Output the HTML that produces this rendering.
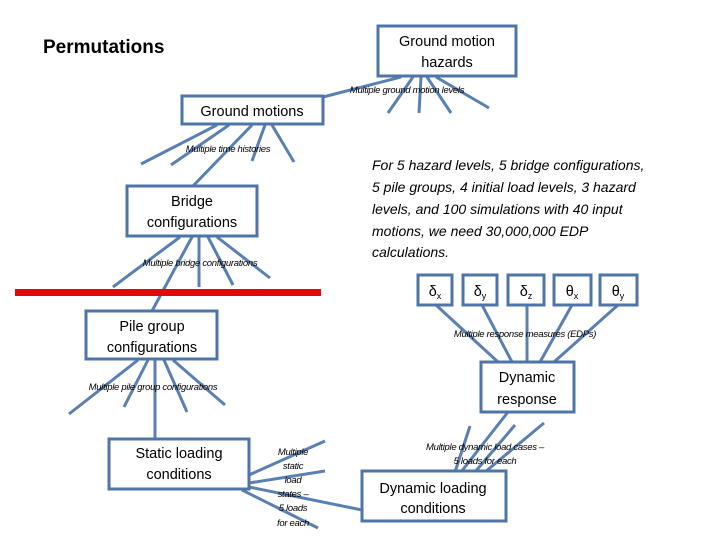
<!DOCTYPE html>
<html><head><meta charset="utf-8"><style>
body{margin:0;background:#fff;width:720px;height:540px;overflow:hidden}
svg{display:block}
text{font-family:"Liberation Sans",sans-serif}
.b{fill:#fff;stroke:#4f75a8;stroke-width:3}
.l line{stroke:#5a80b3;stroke-width:3}
.t{font-size:14.5px;fill:#000;text-anchor:middle}
.s{font-size:9.5px;font-style:italic;fill:#000;text-anchor:middle;letter-spacing:-0.3px}
</style></head><body>
<svg width="720" height="540" viewBox="0 0 720 540">
<g class="l">
<line x1="323" y1="97" x2="401" y2="77"/>
<line x1="413" y1="77" x2="388" y2="113"/>
<line x1="421" y1="77" x2="419" y2="113"/>
<line x1="427" y1="77" x2="451" y2="113"/>
<line x1="436" y1="77" x2="489" y2="108"/>
<line x1="217" y1="125" x2="141" y2="164"/>
<line x1="229" y1="125" x2="171" y2="165"/>
<line x1="252" y1="125" x2="193" y2="186"/>
<line x1="265" y1="125" x2="252" y2="161"/>
<line x1="272" y1="125" x2="294" y2="162"/>
<line x1="180" y1="237" x2="113" y2="287"/>
<line x1="192" y1="237" x2="152" y2="311"/>
<line x1="199" y1="237" x2="199" y2="287"/>
<line x1="208" y1="237" x2="233" y2="285"/>
<line x1="217" y1="237" x2="270" y2="278"/>
<line x1="138" y1="360" x2="69" y2="414"/>
<line x1="148" y1="360" x2="124" y2="407"/>
<line x1="155" y1="360" x2="155" y2="440"/>
<line x1="164" y1="360" x2="187" y2="412"/>
<line x1="173" y1="360" x2="225" y2="405"/>
<line x1="249" y1="475" x2="325" y2="441"/>
<line x1="249" y1="483" x2="325" y2="471"/>
<line x1="249" y1="487" x2="362" y2="510"/>
<line x1="242" y1="490" x2="318" y2="528"/>
<line x1="455" y1="472" x2="470" y2="426"/>
<line x1="461" y1="472" x2="508" y2="412"/>
<line x1="475" y1="472" x2="515" y2="425"/>
<line x1="485" y1="472" x2="544" y2="423"/>
<line x1="498" y1="362" x2="436" y2="305"/>
<line x1="512" y1="362" x2="482" y2="305"/>
<line x1="527" y1="362" x2="527" y2="305"/>
<line x1="540" y1="362" x2="572" y2="305"/>
<line x1="554" y1="362" x2="618" y2="305"/>
</g>
<rect x="15" y="289" width="306" height="7" fill="#e8050a"/>
<rect class="b" x="378" y="26" width="138" height="50"/>
<rect class="b" x="182" y="96" width="141" height="28"/>
<rect class="b" x="127" y="186" width="130" height="50"/>
<rect class="b" x="86" y="311" width="131" height="48"/>
<rect class="b" x="109" y="439" width="140" height="50"/>
<rect class="b" x="362" y="471" width="144" height="50"/>
<rect class="b" x="481" y="362" width="93" height="50"/>
<rect class="b" x="418" y="275" width="34" height="30"/>
<rect class="b" x="463" y="275" width="34" height="30"/>
<rect class="b" x="508" y="275" width="36" height="30"/>
<rect class="b" x="554" y="275" width="37" height="30"/>
<rect class="b" x="600" y="275" width="37" height="30"/>
<text x="43" y="53" style="font-size:19px;font-weight:bold;fill:#000">Permutations</text>
<text class="t" x="447" y="46">Ground motion</text>
<text class="t" x="447" y="67">hazards</text>
<text class="t" x="252" y="116">Ground motions</text>
<text class="t" x="192" y="206">Bridge</text>
<text class="t" x="192" y="227">configurations</text>
<text class="t" x="152" y="331">Pile group</text>
<text class="t" x="152" y="352">configurations</text>
<text class="t" x="179" y="458">Static loading</text>
<text class="t" x="179" y="479">conditions</text>
<text class="t" x="433" y="493">Dynamic loading</text>
<text class="t" x="433" y="513">conditions</text>
<text class="t" x="527" y="382">Dynamic</text>
<text class="t" x="527" y="404">response</text>
<text class="t" x="435" y="296">δ<tspan font-size="9" dy="3">x</tspan></text>
<text class="t" x="480" y="296">δ<tspan font-size="9" dy="3">y</tspan></text>
<text class="t" x="526" y="296">δ<tspan font-size="9" dy="3">z</tspan></text>
<text class="t" x="572" y="296">θ<tspan font-size="9" dy="3">x</tspan></text>
<text class="t" x="618" y="296">θ<tspan font-size="9" dy="3">y</tspan></text>
<text class="s" x="407" y="93">Multiple ground motion levels</text>
<text class="s" x="228" y="152">Multiple time histories</text>
<text class="s" x="200" y="266">Multiple bridge configurations</text>
<text class="s" x="153" y="390">Multiple pile group configurations</text>
<text class="s" x="525" y="337">Multiple response measures (EDPs)</text>
<text class="s" x="485" y="450">Multiple dynamic load cases –</text>
<text class="s" x="485" y="464">5 loads for each</text>
<text class="s" x="293" y="455">Multiple</text>
<text class="s" x="293" y="469">static</text>
<text class="s" x="293" y="483">load</text>
<text class="s" x="293" y="497">states –</text>
<text class="s" x="293" y="511">5 loads</text>
<text class="s" x="293" y="526">for each</text>
<g style="font-size:14px;font-style:italic;fill:#000">
<text x="372" y="170">For 5 hazard levels, 5 bridge configurations,</text>
<text x="372" y="192">5 pile groups, 4 initial load levels, 3 hazard</text>
<text x="372" y="214">levels, and 100 simulations with 40 input</text>
<text x="372" y="236">motions, we need 30,000,000 EDP</text>
<text x="372" y="257">calculations.</text>
</g>
</svg>
</body></html>
